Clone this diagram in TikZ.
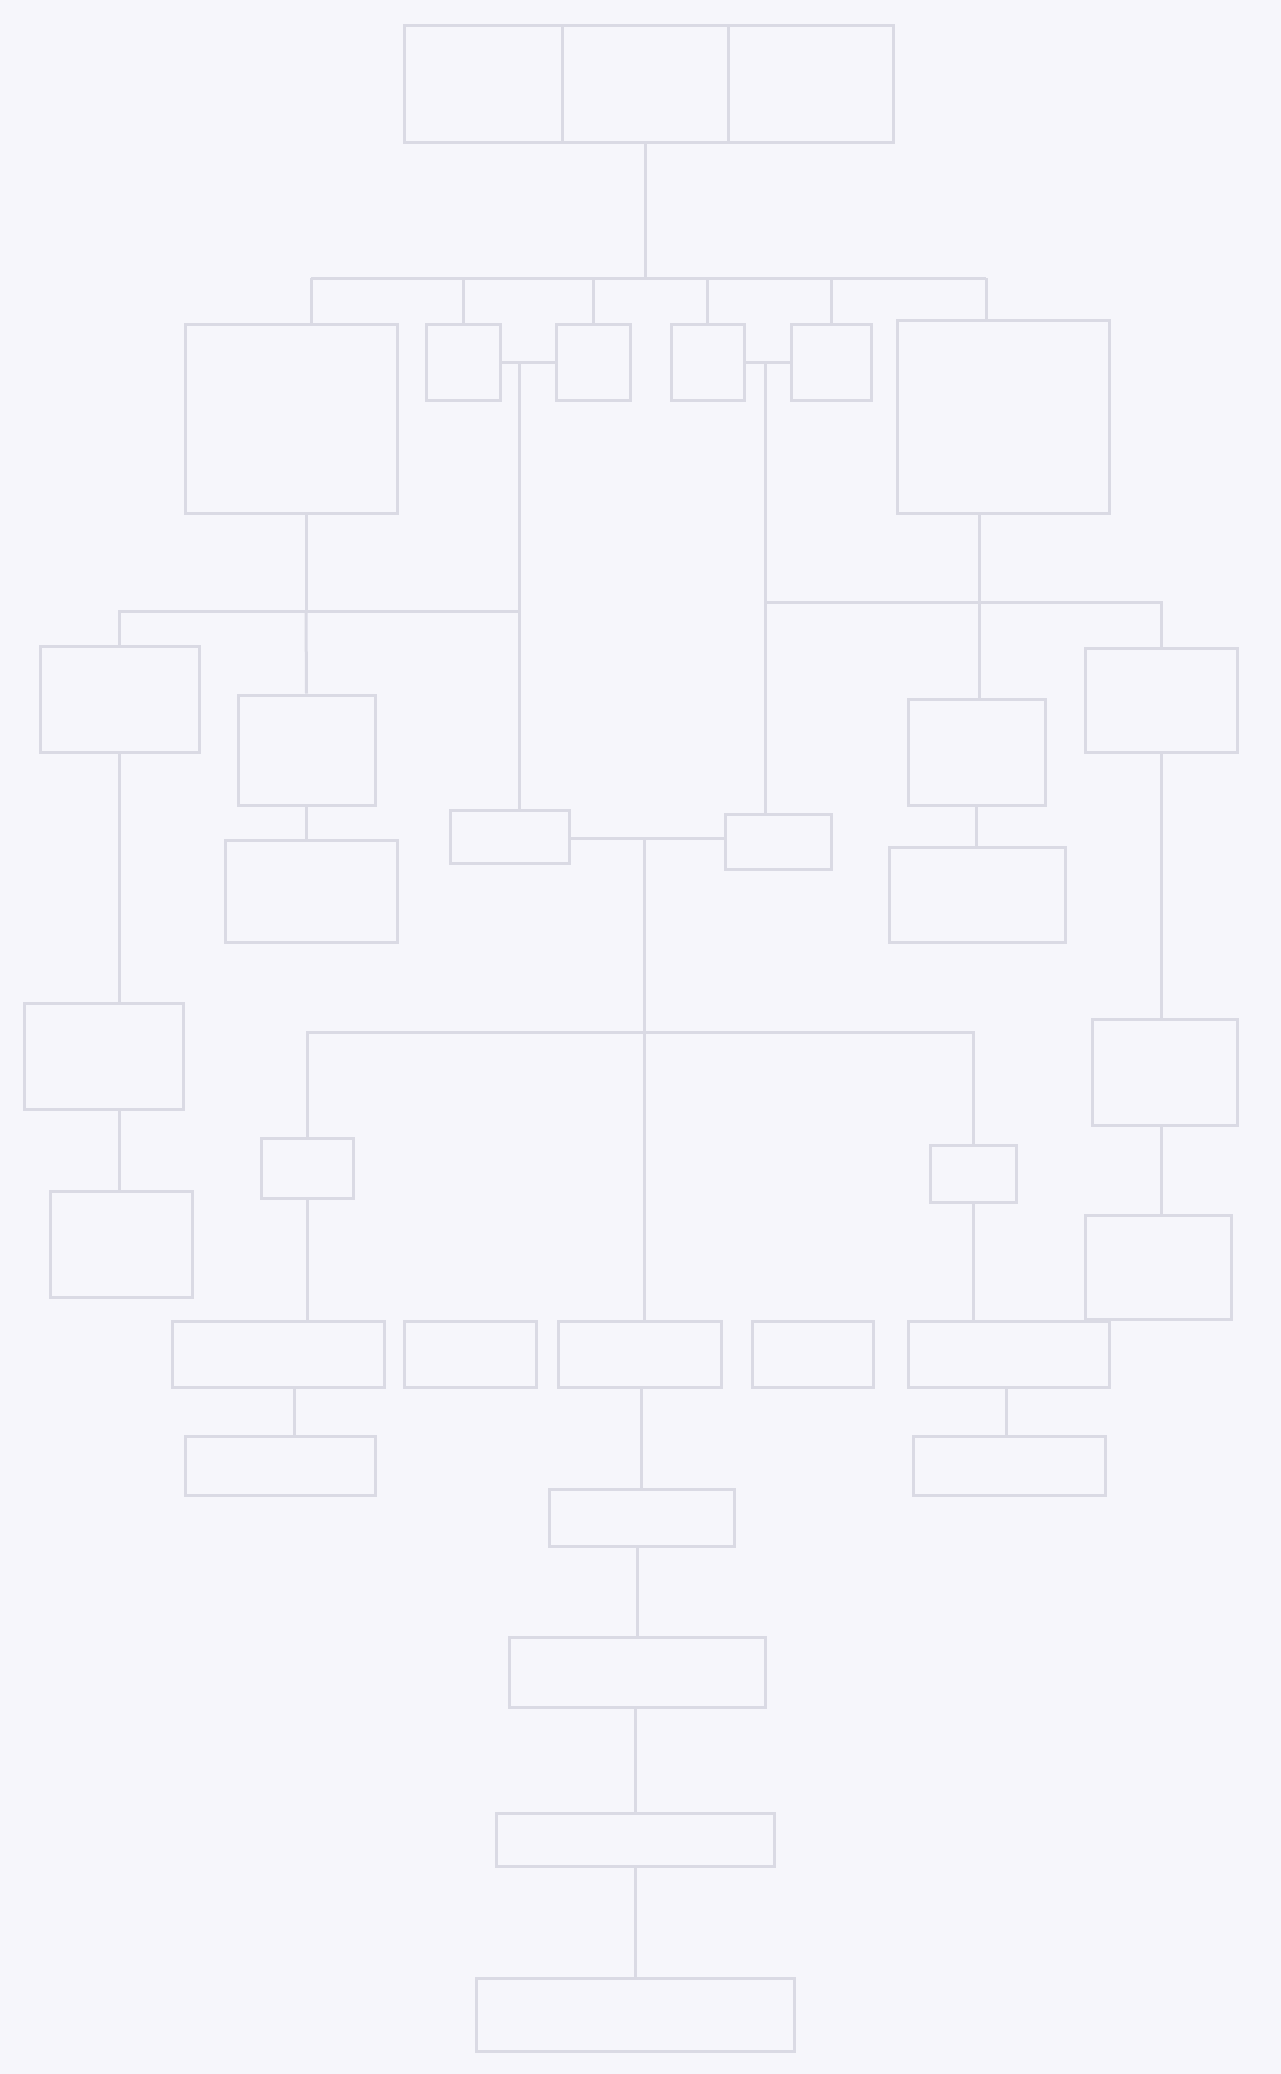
\documentclass[tikz,border=0pt]{standalone}
\definecolor{paper}{RGB}{246,246,251}
\definecolor{ink}{RGB}{218,218,228}
\begin{document}
\begin{tikzpicture}[x=1pt,y=-1pt,
  bx/.style={draw=ink,line width=3pt,inner sep=0pt,rectangle},
  ln/.style={draw=ink,line width=3pt}]
\fill[paper] (0,0) rectangle (1281,2074);
\useasboundingbox (0,0) rectangle (1281,2074);
% top box (three cells)
\node[bx,minimum width=158pt,minimum height=117pt] (t1) at (483,84.5) {};
\node[bx,minimum width=166pt,minimum height=117pt] (t2) at (645,84.5) {};
\node[bx,minimum width=165pt,minimum height=117pt] (t3) at (810.5,84.5) {};
% second row
\node[bx,minimum width=212pt,minimum height=189pt] (lb) at (291,418.5) {};
\node[bx,minimum width=74pt,minimum height=76pt] (s1) at (463,362) {};
\node[bx,minimum width=74pt,minimum height=76pt] (s2) at (593,362) {};
\node[bx,minimum width=73pt,minimum height=76pt] (s3) at (707.5,362) {};
\node[bx,minimum width=80pt,minimum height=76pt] (s4) at (831,362) {};
\node[bx,minimum width=212pt,minimum height=193pt] (rb) at (1003,416.5) {};
% middle
\node[bx,minimum width=119pt,minimum height=53pt] (m1) at (509.5,836.5) {};
\node[bx,minimum width=106pt,minimum height=55pt] (m2) at (778,841.5) {};
\node[bx,minimum width=92pt,minimum height=60pt] (l) at (307,1168) {};
\node[bx,minimum width=86pt,minimum height=57pt] (r) at (973,1173.5) {};
% row
\node[bx,minimum width=212pt,minimum height=66pt] (a) at (278,1354) {};
\node[bx,minimum width=132pt,minimum height=66pt] (b) at (470,1354) {};
\node[bx,minimum width=163pt,minimum height=66pt] (c) at (639.5,1354) {};
\node[bx,minimum width=121pt,minimum height=66pt] (d) at (812.5,1354) {};
\node[bx,minimum width=201pt,minimum height=66pt] (e) at (1008.5,1354) {};
\node[bx,minimum width=190pt,minimum height=59pt] (f) at (280,1465.5) {};
\node[bx,minimum width=192pt,minimum height=59pt] (g) at (1009,1465.5) {};
\node[bx,minimum width=185pt,minimum height=57pt] (h) at (641.5,1517.5) {};
\node[bx,minimum width=256pt,minimum height=70pt] (i) at (637,1672) {};
\node[bx,minimum width=278pt,minimum height=53pt] (j) at (635,1839.5) {};
\node[bx,minimum width=318pt,minimum height=73pt] (k) at (635,2014.5) {};
% left column
\node[bx,minimum width=159pt,minimum height=106pt] (lc1) at (119.5,699) {};
\node[bx,minimum width=137pt,minimum height=110pt] (lc2) at (306.5,750) {};
\node[bx,minimum width=172pt,minimum height=102pt] (lc3) at (311,891) {};
\node[bx,minimum width=159pt,minimum height=106pt] (lc4) at (103.5,1056) {};
\node[bx,minimum width=142pt,minimum height=106pt] (lc5) at (121,1244) {};
% right column
\node[bx,minimum width=137pt,minimum height=106pt] (rc1) at (976.5,752) {};
\node[bx,minimum width=152pt,minimum height=104pt] (rc2) at (1161,700) {};
\node[bx,minimum width=176pt,minimum height=95pt] (rc3) at (977,894.5) {};
\node[bx,minimum width=145pt,minimum height=106pt] (rc4) at (1164.5,1072) {};
\node[bx,minimum width=146pt,minimum height=104pt] (rc5) at (1158,1267) {};
% junction coordinates
\coordinate (bus1) at (645,278);
\coordinate (busl) at (311,278);
\coordinate (busr) at (986,278);
\coordinate (j1) at (519,362);
\coordinate (j2) at (765,362);
\coordinate (jm) at (644,838);
\coordinate (bus2) at (644,1032);
\coordinate (jl) at (306,611);
\coordinate (jr) at (979,602);
% connectors
\draw[ln] (t2.south) -- (bus1);
\draw[ln] (busl) -- (busr);
\draw[ln] (busl) -- (busl |- lb.north);
\draw[ln] (busr) -- (busr |- rb.north);
\draw[ln] (s1.north) -- (s1.north |- bus1);
\draw[ln] (s2.north) -- (s2.north |- bus1);
\draw[ln] (s3.north) -- (s3.north |- bus1);
\draw[ln] (s4.north) -- (s4.north |- bus1);
\draw[ln] (s1.east) -- (s2.west);
\draw[ln] (s3.east) -- (s4.west);
\draw[ln] (j1) -- (j1 |- m1.north);
\draw[ln] (j2) -- (j2 |- m2.north);
\draw[ln] (m1.east |- jm) -- (m2.west |- jm);
\draw[ln] (jm) -- (bus2);
\draw[ln] (l.north) |- (bus2);
\draw[ln] (r.north) |- (bus2);
\draw[ln] (bus2) -- (bus2 |- c.north);
\draw[ln] (l.south) -- (l.south |- a.north);
\draw[ln] (r.south) -- (r.south |- e.north);
\draw[ln] (a.south -| 294,0) -- (f.north -| 294,0);
\draw[ln] (e.south -| 1006,0) -- (g.north -| 1006,0);
\draw[ln] (c.south -| h.north) -- (h.north);
\draw[ln] (h.south -| i.north) -- (i.north);
\draw[ln] (i.south -| j.north) -- (j.north);
\draw[ln] (j.south) -- (k.north);
% left column
\draw[ln] (lb.south -| jl) -- (jl);
\draw[ln] (lc1.north) |- (jl);
\draw[ln] (jl) -- (jl -| j1);
\draw[ln] (jl) -- (lc2.north);
\draw[ln] (lc2.south) -- (lc3.north -| lc2.south);
\draw[ln] (lc1.south) -- (lc4.north -| lc1.south);
\draw[ln] (lc4.south -| lc1.south) -- (lc5.north -| lc1.south);
% right column
\draw[ln] (rb.south -| jr) -- (jr);
\draw[ln] (jr) -- (jr -| j2);
\draw[ln] (jr) -| (rc2.north);
\draw[ln] (jr) -- (jr |- rc1.north);
\draw[ln] (rc1.south) -- (rc3.north -| rc1.south);
\draw[ln] (rc2.south) -- (rc4.north -| rc2.south);
\draw[ln] (rc4.south -| rc2.south) -- (rc5.north -| rc2.south);
\end{tikzpicture}
\end{document}
